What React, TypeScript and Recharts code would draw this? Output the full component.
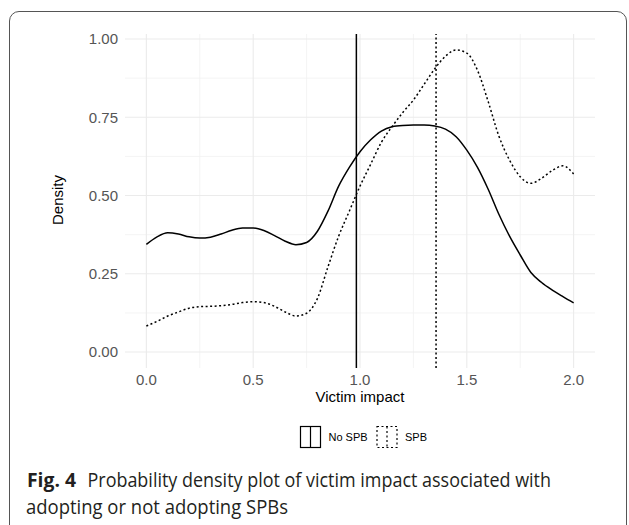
import { LineChart, Line, XAxis, YAxis, CartesianGrid, ReferenceLine } from "recharts";

const xs = [
  0, 0.05, 0.1, 0.15, 0.2, 0.25, 0.3, 0.35, 0.4, 0.45, 0.5, 0.55, 0.6, 0.65, 0.7, 0.75, 0.8, 0.85, 0.9, 0.95,
  1, 1.05, 1.1, 1.15, 1.2, 1.25, 1.3, 1.35, 1.4, 1.45, 1.5, 1.55, 1.6, 1.65, 1.7, 1.75, 1.8, 1.85, 1.9, 1.95, 2,
];
const noSpb = [
  0.344, 0.368, 0.381, 0.377, 0.368, 0.364, 0.367, 0.377, 0.389, 0.396, 0.396, 0.388, 0.372, 0.354, 0.343, 0.35,
  0.385, 0.45, 0.53, 0.59, 0.64, 0.678, 0.706, 0.72, 0.724, 0.725, 0.725, 0.722, 0.712, 0.688, 0.645, 0.59, 0.52,
  0.44, 0.37, 0.31, 0.254, 0.222, 0.198, 0.177, 0.157,
];
const spb = [
  0.083, 0.098, 0.115, 0.128, 0.14, 0.145, 0.146, 0.148, 0.152, 0.158, 0.161, 0.158, 0.146, 0.128, 0.115, 0.124,
  0.17, 0.272, 0.37, 0.45, 0.53, 0.6, 0.67, 0.72, 0.765, 0.805, 0.855, 0.905, 0.945, 0.965, 0.955, 0.9, 0.8, 0.69,
  0.613, 0.56, 0.539, 0.555, 0.58, 0.595, 0.569,
];
const noSpbMean = 0.983;
const spbMean = 1.356;

const xTicks = [0, 0.5, 1, 1.5, 2];
const yTicks = [0, 0.25, 0.5, 0.75, 1];
const xMinor = [0.25, 0.75, 1.25, 1.75];
const yMinor = [0.125, 0.375, 0.625, 0.875];

const data = xs.map((x, i) => ({ x, noSpb: noSpb[i], spb: spb[i] }));

const sans = "Liberation Sans, Arial, sans-serif";
const tickFont = { fill: "#555", fontSize: 15, fontFamily: sans };
const captionFont = "Open Sans, Noto Sans, sans-serif";

export default function App() {
  return (
    <div style={{ position: "absolute", left: 0, top: 0, width: 629, height: 525, overflow: "hidden", background: "#fff" }}>
      <div
        style={{
          position: "absolute",
          left: 9,
          top: 11,
          width: 618,
          height: 560,
          border: "1.5px solid #555",
          borderRadius: 10,
          boxSizing: "border-box",
        }}
      />
      <div style={{ position: "absolute", left: 0, top: 0 }}>
        <LineChart width={629} height={420} data={data} margin={{ top: 34, right: 34, left: 65, bottom: 22 }}>
          <CartesianGrid stroke="#f1f1f1" strokeWidth={0.8} horizontalValues={yMinor} verticalValues={xMinor} />
          <CartesianGrid stroke="#ebebeb" strokeWidth={1.1} horizontalValues={yTicks} verticalValues={xTicks} />
          <XAxis
            dataKey="x"
            type="number"
            domain={[-0.1, 2.1]}
            ticks={xTicks}
            tickFormatter={(v) => v.toFixed(1)}
            axisLine={false}
            tickLine={false}
            tickSize={0}
            tickMargin={6}
            height={30}
            tick={tickFont}
          />
          <YAxis
            type="number"
            domain={[-0.051, 1.016]}
            ticks={yTicks}
            tickFormatter={(v) => v.toFixed(2)}
            axisLine={false}
            tickLine={false}
            tickSize={0}
            tickMargin={7}
            width={60}
            allowDataOverflow
            tick={tickFont}
          />
          <ReferenceLine x={noSpbMean} stroke="#000" strokeWidth={1.5} />
          <ReferenceLine x={spbMean} stroke="#000" strokeWidth={1.5} strokeDasharray="2 2.5" />
          <Line
            type="monotone"
            dataKey="noSpb"
            stroke="#000"
            strokeWidth={1.5}
            dot={false}
            activeDot={false}
            isAnimationActive={false}
          />
          <Line
            type="monotone"
            dataKey="spb"
            stroke="#000"
            strokeWidth={1.5}
            strokeDasharray="2 2.5"
            dot={false}
            activeDot={false}
            isAnimationActive={false}
          />
        </LineChart>
      </div>
      <svg width={629} height={525} style={{ position: "absolute", left: 0, top: 0, pointerEvents: "none" }}>
        <text
          x={0}
          y={0}
          transform="translate(57,200) rotate(-90)"
          textAnchor="middle"
          dominantBaseline="central"
          fontSize={15}
          fontFamily={sans}
          fill="#000"
        >
          Density
        </text>
        <text x={360} y={402} textAnchor="middle" fontSize={15} fontFamily={sans} fill="#000">
          Victim impact
        </text>
        {/* legend */}
        <rect x={300.5} y={426.5} width={20} height={21} fill="none" stroke="#000" strokeWidth={1.2} />
        <line x1={310.5} x2={310.5} y1={426.5} y2={447.5} stroke="#000" strokeWidth={1.2} />
        <text x={328.5} y={441} fontSize={11} fontFamily={sans} fill="#000">
          No SPB
        </text>
        <rect
          x={377}
          y={426.5}
          width={20}
          height={21}
          fill="none"
          stroke="#000"
          strokeWidth={1.2}
          strokeDasharray="2 2.5"
        />
        <line x1={387} x2={387} y1={426.5} y2={447.5} stroke="#000" strokeWidth={1.2} strokeDasharray="2 2.5" />
        <text x={405} y={441} fontSize={11} fontFamily={sans} fill="#000">
          SPB
        </text>
        {/* caption */}
        <text
          x={27}
          y={487}
          fontSize={19.5}
          fontWeight="bold"
          fontFamily={captionFont}
          fill="#231f20"
          textLength={49}
          lengthAdjust="spacingAndGlyphs"
        >
          Fig. 4
        </text>
        <text
          x={87.5}
          y={487}
          fontSize={19.5}
          fontFamily={captionFont}
          fill="#231f20"
          textLength={463.5}
          lengthAdjust="spacingAndGlyphs"
        >
          Probability density plot of victim impact associated with
        </text>
        <text
          x={26}
          y={514}
          fontSize={19.5}
          fontFamily={captionFont}
          fill="#231f20"
          textLength={262}
          lengthAdjust="spacingAndGlyphs"
        >
          adopting or not adopting SPBs
        </text>
      </svg>
    </div>
  );
}
